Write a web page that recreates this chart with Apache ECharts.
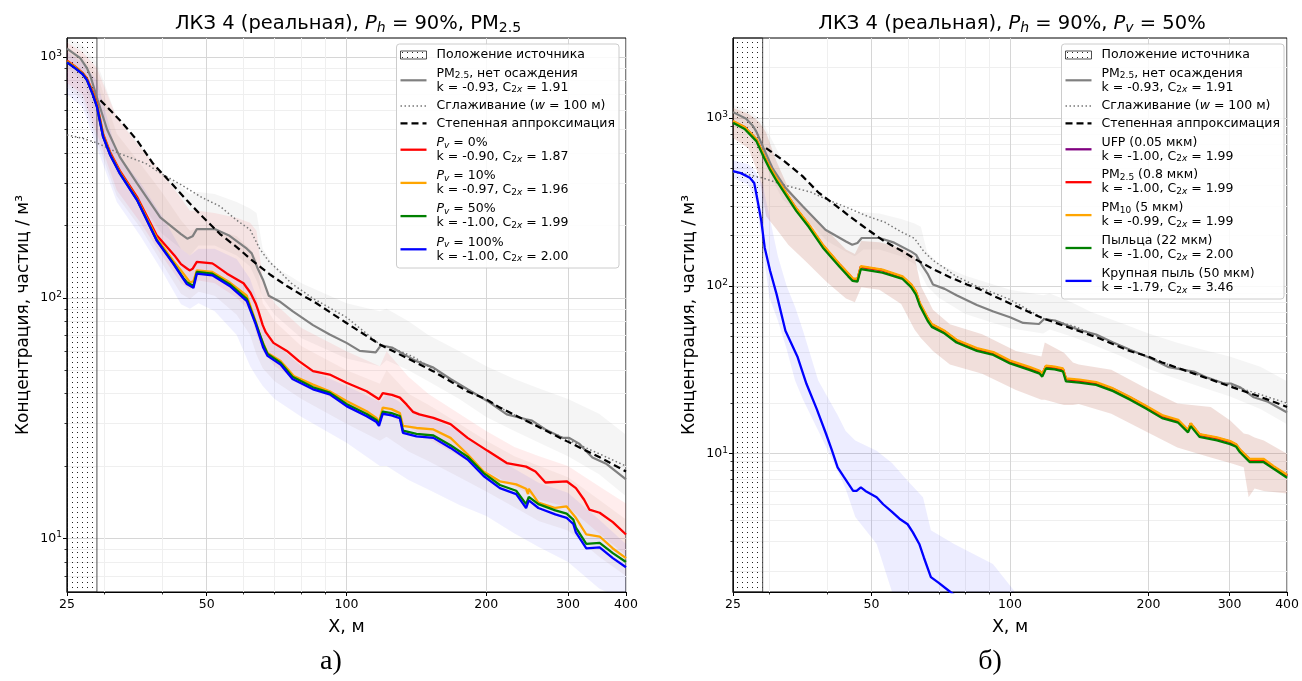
<!DOCTYPE html>
<html>
<head>
<meta charset="utf-8">
<script src="https://cdn.jsdelivr.net/npm/echarts@6/dist/echarts.min.js"></script>
<style>
html, body { margin: 0; padding: 0; background: #fff; }
#main { width: 1302px; height: 681px; }
</style>
</head>
<body>
<div id="main"></div>
<script>
// ---- оси ----
var X_TICKS = [25, 50, 100, 200, 300, 400];
var X_MINOR = [30, 40, 60, 70, 80, 90];
var Y_TICKS = [10, 100, 1000];
var Y_MINOR_A = [7, 8, 9, 20, 30, 40, 50, 60, 70, 80, 90, 200, 300, 400, 500, 600, 700, 800, 900];
var Y_MINOR_B = [2, 3, 4, 5, 6, 7, 8, 9, 20, 30, 40, 50, 60, 70, 80, 90, 200, 300, 400, 500, 600, 700, 800, 900, 2000];
var SOURCE_X = [25, 29];   // положение источника, м

// ---- общие для обеих панелей: PM2.5 без осаждения, сглаживание, аппроксимация ----
var GREY_NODEP = [[25,1085],[26.7,990],[27.6,900],[28.1,830],[29.1,665],[30.5,500],[32.5,384],[35.4,299],[39.7,216],[44,184],[45.4,176],[46.6,180],[47.6,193],[52,193],[56,181],[61,160],[62.5,153],[64.2,134],[66.2,118],[68,102],[72.1,96],[76.5,88],[84.7,77],[92,70.4],[100,65],[106.8,60.2],[115.6,59.3],[118.6,63.5],[125.3,62.2],[134.8,57.4],[141.5,54.6],[153.9,51.3],[167.5,46],[182.3,41.7],[201,37.3],[221.4,32.8],[243.7,31.3],[251,30.9],[268.2,28.4],[292,26.2],[301.8,26.2],[317,24.8],[338.6,21.7],[363.5,20.4],[400,17.6]];
var SMOOTH = [[25,475],[27,460],[29,440],[32.5,397],[37,361],[39.7,330],[44,295],[49,260],[53.4,240],[58,210],[62,192],[65,160],[68,142],[72,128],[76,115],[85,99],[100,83],[118,64],[125,62],[139,57],[154,50.5],[182,41.7],[214,35],[251,30],[298,25.9],[352,22.4],[400,20]];
var POWER_FIT = [[29.5,662],[32.5,547],[35.4,451],[38.3,361],[41.7,303],[45.3,254],[49.1,216],[53.4,184],[58.1,162],[62.9,142],[68.4,125],[74.4,112],[80.6,102],[84.7,97],[100,78.6],[118,64],[139,54.6],[153.6,49.6],[182,40.9],[200,37.9],[214,35],[252,29.9],[298,25.4],[352,21.7],[400,19]];
var GREY_BAND = [[25,900,1200],[27,800,1120],[29,560,950],[32,330,560],[36,250,430],[40,185,330],[44,160,290],[46,150,270],[48,165,275],[52,165,270],[58,150,250],[62,135,235],[64,118,225],[66,100,160],[70,85,135],[80,68,115],[100,56,95],[118,52,88],[122,55,90],[136,50,80],[150,45,70],[175,38,60],[200,32,52],[230,28,46],[260,25,42],[300,22,38],[350,18.5,33],[400,15,27]];

// ---- панель а): PM2.5, разные Pv ----
var A_PV0 = [[25,965],[26,915],[27,860],[27.6,815],[28.4,720],[29,640],[29.9,480],[31,400],[32.5,337],[35.4,262],[39,182],[42.6,150],[44,138],[45.4,132],[46,130],[46.6,132],[47.6,141],[51.4,139],[52,137],[55.3,126],[60,115],[62.1,105],[63.7,95],[64.6,88],[66,77],[67,72],[69.6,65],[74.4,60.2],[79,54.6],[84.7,49.6],[92,48],[100,44.4],[110.5,40.9],[117.5,37.9],[119.7,40.2],[125.3,39.5],[130.3,38.5],[134.8,36],[139,33.6],[143.5,32.8],[153.9,31.7],[167.5,29.9],[182.3,26.2],[201,23.2],[221.4,20.6],[243.7,19.9],[255.3,19],[268.2,17.1],[298,17.3],[312,16.2],[325,14.5],[333.5,13.2],[351,12.8],[374.7,11.7],[400,10.4]];
var A_PV10 = [[25,960],[26,910],[27,855],[27.6,808],[28.4,710],[29,630],[29.9,472],[31,394],[32.5,332],[35.4,257],[39,177],[42.4,142],[44,130],[45.4,120],[46,116],[46.8,117],[47.6,130],[51.4,128],[56,116],[61,102],[63.7,80],[65,70],[67.6,59],[72.1,54.6],[77,47.3],[84.7,43.6],[92,40.9],[100,37.3],[110.5,33.8],[116,31.7],[117.5,30.5],[119.7,35],[125,34.5],[130.3,33.2],[132.3,29.4],[141.5,28.8],[153.9,28.4],[167.5,26.2],[182.3,22.4],[197.4,19],[214,17.3],[232,16.8],[243.7,16.1],[246,15.3],[247,16.1],[259,14.1],[281.7,13.4],[298,13.6],[312,12.2],[328.5,10.4],[351,10.2],[374.7,9.1],[400,8.3]];
var A_PV50 = [[25,952],[26,902],[27,852],[27.6,804],[28.4,702],[29,624],[29.9,468],[31,391],[32.5,329],[35.4,255],[39,174],[42.4,139],[44.5,121],[45.3,116],[46.8,112],[47.6,128],[51.4,126],[56,114],[61,99],[63.7,79],[66.2,64],[67.6,58.5],[72.1,53.8],[76.5,47],[84.7,42.5],[92,40.4],[100,36.2],[110.5,32.9],[116,31.1],[117.5,30],[119.7,33.7],[125,33.2],[130.3,32.3],[132.3,28.1],[141.5,27.2],[153.9,26.8],[167.5,24.4],[182.3,21.9],[197.4,18.7],[214,16.7],[232,15.8],[243.7,13.9],[247,14.9],[259,13.9],[281.7,13.1],[298,12.7],[308,12],[312,11.1],[328.5,9.5],[351,9.6],[374.7,8.7],[400,8]];
var A_PV100 = [[25,950],[26,900],[27,850],[27.6,802],[28.4,700],[29,621],[29.9,466],[31,390],[32.5,328],[35.4,254],[39,173],[42.4,138],[44.5,120],[45.3,114],[46.8,110],[47.6,126],[51.4,124],[56,112],[61,97],[63.7,78],[66.2,62],[67.6,57.4],[72.1,52.8],[76.5,46],[84.7,41.7],[92,39.7],[100,35.5],[110.5,32.2],[116,30.5],[117.5,29.4],[119.7,33],[125,32.5],[130.3,31.6],[132.3,27.5],[141.5,26.6],[153.9,26.2],[167.5,23.8],[182.3,21.3],[197.4,18.2],[214,16.2],[232,15.3],[243.7,13.4],[247,14.4],[259,13.4],[281.7,12.6],[298,12.2],[308,11.5],[312,10.6],[328.5,9.1],[351,9.2],[374.7,8.3],[400,7.6]];
var A_PV0_BAND = [[25,780,1150],[27,700,1050],[29,480,900],[32,280,560],[36,205,420],[40,150,330],[44,115,260],[46,108,230],[48,118,230],[52,115,225],[58,100,215],[62,88,205],[64,70,190],[66,60,120],[70,52,95],[80,44,75],[100,36,60],[118,31,52],[122,33,60],[136,29,47],[150,26,40],[175,22,33],[200,19,28],[230,16.5,24],[260,14.5,22],[300,13.5,20],[350,10.5,16.5],[400,8.5,14]];
var A_PV10_BAND = [[25,750,1100],[27,660,1000],[29,450,850],[32,265,480],[36,195,360],[40,140,275],[44,104,210],[46,99,190],[48,106,195],[52,102,192],[58,85,180],[62,70,160],[64,58,145],[66,51,95],[70,45,80],[80,38,63],[100,30,50],[118,25.5,44],[122,26.5,50],[136,23,40],[150,21,36],[175,18,30],[200,15.7,25.5],[230,13.5,22],[260,11.8,20],[300,10.8,18],[350,8.4,14.5],[400,7,12]];
var A_PV100_BAND = [[25,700,1050],[27,620,950],[29,420,800],[32,250,400],[36,180,300],[40,130,220],[44,94,160],[46,90,150],[48,95,160],[52,88,160],[58,70,145],[62,52,120],[64,47,100],[66,43,75],[70,38,65],[80,32,52],[100,25,43],[118,20,37],[122,20,40],[136,17.5,35],[150,16,32],[175,13.8,28],[200,12.4,23],[230,10.5,19.5],[260,9.2,17],[300,8,15.5],[350,6.2,12],[400,5.5,9.5]];

// ---- панель б): Pv = 50%, разные размеры частиц ----
var B_PM25 = [[25,955],[26.5,880],[28.1,745],[29.2,595],[30,513],[31.1,433],[34.3,288],[36.5,231],[39.2,174],[42.6,134],[44.5,118],[45.5,110],[46.6,109],[47.4,130],[52.8,124],[58.4,113],[61,101],[62.4,92],[63.7,78],[66.2,64],[67.6,58.8],[72.1,53.5],[76.5,47.3],[84.7,42.2],[92,39.9],[100,35.5],[110.5,32.4],[116,30.9],[117.5,29.7],[119.7,33.2],[125,32.7],[130.3,31.9],[132.3,27.8],[141.5,27.3],[153.9,26.4],[167.5,24.3],[182.3,21.6],[197.4,19.1],[214,16.8],[232,15.7],[243.7,13.8],[247,15.1],[258,13],[281.7,12.4],[301,11.8],[310,11.3],[316,10.5],[332,9.2],[356,9.2],[374.7,8.3],[400,7.4]];
var B_UFP = B_PM25;   // линия UFP целиком закрыта линией PM2.5
var B_PM10 = [[25,960],[26.5,885],[28.1,750],[29.2,600],[30,517],[31.1,437],[34.3,290],[36.5,233],[39.2,176],[42.6,135],[44.5,119],[45.5,111],[46.6,110],[47.4,131],[52.8,125],[58.4,114],[61,102],[62.4,93],[63.7,79],[66.2,64.5],[67.6,59.3],[72.1,54],[76.5,47.8],[84.7,42.6],[92,40.3],[100,35.9],[110.5,32.8],[116,31.2],[117.5,30],[119.7,33.5],[125,33],[130.3,32.2],[132.3,28.1],[141.5,27.6],[153.9,26.7],[167.5,24.5],[182.3,21.8],[197.4,19.3],[214,17],[232,15.9],[243.7,13.9],[247,15.2],[258,13.1],[281.7,12.5],[301,11.9],[310,11.4],[316,10.6],[332,9.3],[356,9.3],[374.7,8.4],[400,7.5]];
var B_POLLEN = [[25,937],[26.5,860],[28.1,729],[29.2,581],[30,500],[31.1,422],[34.3,280],[36.5,225],[39.2,169],[42.6,130],[44.5,114],[45.5,107],[46.6,106],[47.4,126],[52.8,120],[58.4,110],[61,98],[62.4,89],[63.7,76],[66.2,62],[67.6,57],[72.1,52],[76.5,46],[84.7,41],[92,38.8],[100,34.5],[110.5,31.5],[116,30],[117.5,28.8],[119.7,32.2],[125,31.8],[130.3,31],[132.3,27],[141.5,26.5],[153.9,25.7],[167.5,23.6],[182.3,21],[197.4,18.6],[214,16.3],[232,15.3],[243.7,13.4],[247,14.6],[258,12.6],[281.7,12],[301,11.4],[310,11],[316,10.2],[332,8.9],[356,8.9],[374.7,8.1],[400,7.2]];
var B_DUST = [[25,483],[26,470],[27.2,441],[27.8,410],[28.2,335],[28.8,244],[29.3,169],[30.1,123],[31.1,89],[32.5,54],[34.5,38],[36.1,26.1],[38,18.5],[39.8,13.2],[41,10.5],[42.2,8.3],[43.5,7.3],[45.6,6],[46.4,6],[47.4,6.3],[48.5,6],[51.3,5.5],[53,5],[55.4,4.5],[57.5,4.1],[59.9,3.8],[61.5,3.4],[63.5,2.9],[65,2.4],[67.3,1.84],[70,1.7],[74.2,1.5],[78,1.35]];
var B_PARTICLE_BAND = [[25,760,1150],[27,660,1060],[28.5,450,950],[29.5,260,820],[31,220,560],[33,175,380],[36,140,280],[40,105,215],[44,84,165],[46,80,155],[47.5,98,185],[52,95,182],[58,78,168],[62,55,150],[64,49,100],[68,41,72],[74,34,59],[87,30,51.5],[103,24,41],[117,21,38],[119,21,46],[131,19.5,40],[137,19.5,35],[141,19.8,34],[166,17.3,31.6],[196,13.7,24.8],[231,10.9,19.9],[273,9.5,19],[301,8.8,15.8],[322,8.3,13.2],[330,5.5,13],[340,6.2,12.5],[356,6,12],[400,5.8,10]];
var B_DUST_BAND = [[25,440,560],[27,400,530],[28,320,480],[29,170,400],[30,85,260],[31.3,62,150],[32.7,42,100],[34.1,27.3,75],[35.5,21,54],[38.3,13.7,27.3],[42.2,7.9,17],[43.9,6.2,13.7],[46.1,4.2,12],[51.3,2.9,10.4],[55.4,1.5,8.8],[59.9,1.2,6.9],[64.7,1.2,5.5],[67.3,1.2,3.5],[75.6,1.2,2.9],[91.8,1.2,2.2],[102,1.2,1.53]];

// ---- подписи ----
var TITLES = [
  'ЛКЗ 4 (реальная), {i|P}{si|h} = 90%, PM{s|2.5}',
  'ЛКЗ 4 (реальная), {i|P}{si|h} = 90%, {i|P}{si|v} = 50%'
];
var COMMON_LEG = [
  'Положение источника',
  'PM{s|2.5}, нет осаждения\nk = -0.93, C{s|2}{si|x} = 1.91',
  'Сглаживание ({i|w} = 100 м)',
  'Степенная аппроксимация'
];
var LEG_A = [
  '{i|P}{si|v} = 0%\nk = -0.90, C{s|2}{si|x} = 1.87',
  '{i|P}{si|v} = 10%\nk = -0.97, C{s|2}{si|x} = 1.96',
  '{i|P}{si|v} = 50%\nk = -1.00, C{s|2}{si|x} = 1.99',
  '{i|P}{si|v} = 100%\nk = -1.00, C{s|2}{si|x} = 2.00'
];
var LEG_B = [
  'UFP (0.05 мкм)\nk = -1.00, C{s|2}{si|x} = 1.99',
  'PM{s|2.5} (0.8 мкм)\nk = -1.00, C{s|2}{si|x} = 1.99',
  'PM{s|10} (5 мкм)\nk = -0.99, C{s|2}{si|x} = 1.99',
  'Пыльца (22 мкм)\nk = -1.00, C{s|2}{si|x} = 2.00',
  'Крупная пыль (50 мкм)\nk = -1.79, C{s|2}{si|x} = 3.46'
];

var F = 'DejaVu Sans';
var ST = {
  grey:   { color: '#808080', width: 2.2, dash: 'solid' },
  dotted: { color: '#777777', width: 1.5, dash: [1.5, 2.5] },
  dashed: { color: '#000000', width: 2.2, dash: [7, 4] },
  purple: { color: '#800080', width: 2.3 },
  red:    { color: '#ff0000', width: 2.3 },
  orange: { color: '#ffa500', width: 2.3 },
  green:  { color: '#008000', width: 2.3 },
  blue:   { color: '#0000ff', width: 2.3 }
};

// точечная штриховка области источника
var hatchCanvas = document.createElement('canvas');
hatchCanvas.width = 5; hatchCanvas.height = 5;
(function () {
  var c = hatchCanvas.getContext('2d');
  c.fillStyle = '#222';
  c.fillRect(2, 2, 1, 1);
})();
var HATCH = { image: hatchCanvas, repeat: 'repeat' };

var chart = echarts.init(document.getElementById('main'), null, { renderer: 'canvas' });

function line(name, data, ax, st, extra) {
  var s = {
    type: 'line', name: name, data: data, xAxisIndex: ax, yAxisIndex: ax,
    showSymbol: false, symbol: 'none', silent: true, clip: true, z: 3,
    lineStyle: { color: st.color, width: st.width, type: st.dash || 'solid' },
    itemStyle: { color: st.color }
  };
  if (extra) for (var k in extra) s[k] = extra[k];
  return s;
}

// полоса разброса: один многоугольник по верхней и нижней границе
function band(rows, ax, fill) {
  return {
    type: 'custom', xAxisIndex: ax, yAxisIndex: ax, silent: true, z: 1,
    data: rows, encode: { x: 0, y: [1, 2] },
    renderItem: function (params, api) {
      if (params.dataIndex !== 0) return null;
      var pts = [];
      for (var i = 0; i < rows.length; i++) pts.push(api.coord([rows[i][0], rows[i][2]]));
      for (var j = rows.length - 1; j >= 0; j--) pts.push(api.coord([rows[j][0], rows[j][1]]));
      var cs = params.coordSys;
      return {
        type: 'polygon', shape: { points: pts }, style: { fill: fill },
        clipPath: { type: 'rect', shape: { x: cs.x, y: cs.y, width: cs.width, height: cs.height } }
      };
    }
  };
}

var sourceArea = {
  silent: true,
  itemStyle: { color: HATCH, borderColor: '#222', borderWidth: 0.8 },
  label: { show: false },
  data: [[{ xAxis: SOURCE_X[0] }, { xAxis: SOURCE_X[1] }]]
};

function xAxes(gi) {
  return [{
    type: 'log', logBase: 10, gridIndex: gi, position: 'bottom', min: 25, max: 400,
    name: 'X, м', nameLocation: 'middle', nameGap: 26,
    nameTextStyle: { fontFamily: F, fontSize: 17.5, color: '#000' },
    axisLine: { show: true, onZero: false, lineStyle: { color: '#000', width: 1 } },
    axisTick: { show: true, customValues: X_TICKS, length: 4, lineStyle: { color: '#000' } },
    axisLabel: { customValues: X_TICKS, formatter: function (v) { return String(Math.round(v)); },
      fontFamily: F, fontSize: 12.5, color: '#000', margin: 6 },
    splitLine: { show: true, lineStyle: { color: '#d6d6d6', width: 1 } }
  }, {
    type: 'log', logBase: 10, gridIndex: gi, position: 'bottom', min: 25, max: 400,
    axisLine: { show: false },
    axisTick: { show: true, customValues: X_MINOR, length: 2.5, lineStyle: { color: '#000', width: 0.8 } },
    axisLabel: { show: false, customValues: X_MINOR },
    splitLine: { show: true, lineStyle: { color: '#efefef', width: 1 } }
  }];
}

function yAxes(gi, ymin, ymax, minor) {
  return [{
    type: 'log', logBase: 10, gridIndex: gi, position: 'left', min: ymin, max: ymax,
    name: 'Концентрация, частиц / м³', nameLocation: 'middle', nameGap: 35,
    nameTextStyle: { fontFamily: F, fontSize: 17, color: '#000' },
    axisLine: { show: true, onZero: false, lineStyle: { color: '#000', width: 1 } },
    axisTick: { show: true, customValues: Y_TICKS, length: 4, lineStyle: { color: '#000' } },
    axisLabel: {
      customValues: Y_TICKS, margin: 5,
      formatter: function (v) { return '{b|10}{sup|' + Math.round(Math.log10(v)) + '}'; },
      rich: {
        b: { fontFamily: F, fontSize: 12.5, color: '#000', lineHeight: 16 },
        sup: { fontFamily: F, fontSize: 9, color: '#000', lineHeight: 9, verticalAlign: 'top' }
      }
    },
    splitLine: { show: true, lineStyle: { color: '#d6d6d6', width: 1 } }
  }, {
    type: 'log', logBase: 10, gridIndex: gi, position: 'left', min: ymin, max: ymax,
    axisLine: { show: false },
    axisTick: { show: true, customValues: minor, length: 2.5, lineStyle: { color: '#000', width: 0.8 } },
    axisLabel: { show: false, customValues: minor },
    splitLine: { show: true, lineStyle: { color: '#efefef', width: 1 } }
  }];
}

var RICH = {
  i: { fontFamily: F, fontSize: 12.5, fontStyle: 'italic', fill: '#000', lineHeight: 14 },
  s: { fontFamily: F, fontSize: 9, fill: '#000', lineHeight: 9, verticalAlign: 'bottom' },
  si: { fontFamily: F, fontSize: 9, fontStyle: 'italic', fill: '#000', lineHeight: 9, verticalAlign: 'bottom' }
};
var TRICH = {
  i: { fontFamily: F, fontSize: 19.5, fontStyle: 'italic', fill: '#000', lineHeight: 23 },
  s: { fontFamily: F, fontSize: 14, fill: '#000', lineHeight: 14, verticalAlign: 'bottom' },
  si: { fontFamily: F, fontSize: 14, fontStyle: 'italic', fill: '#000', lineHeight: 14, verticalAlign: 'bottom' }
};

function legendBlock(x0, y0, w, h, items) {
  var els = [{
    type: 'rect', z: 100, shape: { x: x0, y: y0, width: w, height: h, r: 3 },
    style: { fill: 'rgba(255,255,255,0.85)', stroke: '#cccccc', lineWidth: 1 }
  }];
  items.forEach(function (it) {
    var ix = x0 + 4, iw = 26;
    if (it.icon === 'hatch') {
      els.push({ type: 'rect', z: 101, shape: { x: ix, y: it.y - 4, width: iw, height: 8 },
        style: { fill: HATCH, stroke: '#222', lineWidth: 0.8 } });
    } else {
      els.push({ type: 'line', z: 101, shape: { x1: ix, y1: it.y, x2: ix + iw, y2: it.y },
        style: { stroke: it.icon.color, lineWidth: it.icon.width,
          lineDash: Array.isArray(it.icon.dash) ? it.icon.dash : null } });
    }
    els.push({ type: 'text', z: 101, x: x0 + 40, y: it.y,
      style: { text: it.text, fontFamily: F, fontSize: 12.5, fill: '#000', lineHeight: 14,
        verticalAlign: 'middle', align: 'left', rich: RICH } });
  });
  return els;
}

var commonIcons = ['hatch', ST.grey, ST.dotted, ST.dashed];
var commonY = [55, 80.3, 106, 123.3];
var legA = [], legB = [];
COMMON_LEG.forEach(function (t, i) { legA.push({ icon: commonIcons[i], y: commonY[i], text: t }); });
COMMON_LEG.forEach(function (t, i) { legB.push({ icon: commonIcons[i], y: commonY[i], text: t }); });
[ST.red, ST.orange, ST.green, ST.blue].forEach(function (st, i) {
  legA.push({ icon: st, y: 149.7 + i * 33.2, text: LEG_A[i] });
});
[ST.purple, ST.red, ST.orange, ST.green, ST.blue].forEach(function (st, i) {
  legB.push({ icon: st, y: 149.3 + i * 32.9, text: LEG_B[i] });
});

var graphics = [
  { type: 'text', x: 348, y: 24, z: 50, style: { text: TITLES[0], fontFamily: F, fontSize: 19.5, fill: '#000',
      lineHeight: 23, align: 'center', verticalAlign: 'middle', rich: TRICH } },
  { type: 'text', x: 1012, y: 24, z: 50, style: { text: TITLES[1], fontFamily: F, fontSize: 19.5, fill: '#000',
      lineHeight: 23, align: 'center', verticalAlign: 'middle', rich: TRICH } },
  { type: 'text', x: 331, y: 662, style: { text: 'а)', fontFamily: 'Liberation Serif', fontSize: 28, fill: '#000',
      align: 'center', verticalAlign: 'middle' } },
  { type: 'text', x: 990, y: 662, style: { text: 'б)', fontFamily: 'Liberation Serif', fontSize: 28, fill: '#000',
      align: 'center', verticalAlign: 'middle' } }
].concat(legendBlock(396.5, 44, 222.5, 224, legA)).concat(legendBlock(1061.5, 44, 222.5, 255, legB));

var option = {
  animation: false,
  backgroundColor: '#fff',
  grid: [
    { left: 67, top: 38, width: 559, height: 554, show: true, borderColor: '#000', borderWidth: 1, backgroundColor: 'transparent' },
    { left: 733, top: 38, width: 557, height: 554, show: true, borderColor: '#000', borderWidth: 1, backgroundColor: 'transparent' }
  ],
  xAxis: xAxes(0).concat(xAxes(1)),
  yAxis: yAxes(0, 6, 1200, Y_MINOR_A).concat(yAxes(1, 1.5, 3000, Y_MINOR_B)),
  series: [
    // а)
    band(GREY_BAND, 0, 'rgba(128,128,128,0.08)'),
    band(A_PV0_BAND, 0, 'rgba(255,0,0,0.07)'),
    band(A_PV10_BAND, 0, 'rgba(160,110,90,0.08)'),
    band(A_PV100_BAND, 0, 'rgba(0,0,255,0.06)'),
    line('PM2.5, нет осаждения', GREY_NODEP, 0, ST.grey, { markArea: sourceArea }),
    line('Сглаживание', SMOOTH, 0, ST.dotted),
    line('Степенная аппроксимация', POWER_FIT, 0, ST.dashed),
    line('Pv = 0%', A_PV0, 0, ST.red),
    line('Pv = 10%', A_PV10, 0, ST.orange),
    line('Pv = 50%', A_PV50, 0, ST.green),
    line('Pv = 100%', A_PV100, 0, ST.blue),
    // б)
    band(GREY_BAND, 2, 'rgba(128,128,128,0.08)'),
    band(B_PARTICLE_BAND, 2, 'rgba(190,110,90,0.22)'),
    band(B_DUST_BAND, 2, 'rgba(0,0,255,0.07)'),
    line('PM2.5, нет осаждения ', GREY_NODEP, 2, ST.grey, { markArea: sourceArea }),
    line('Сглаживание ', SMOOTH, 2, ST.dotted),
    line('Степенная аппроксимация ', POWER_FIT, 2, ST.dashed),
    line('UFP', B_UFP, 2, ST.purple),
    line('PM2.5 (0.8 мкм)', B_PM25, 2, ST.red),
    line('PM10 (5 мкм)', B_PM10, 2, ST.orange),
    line('Пыльца', B_POLLEN, 2, ST.green),
    line('Крупная пыль', B_DUST, 2, ST.blue)
  ],
  graphic: graphics
};

chart.setOption(option);
</script>
</body>
</html>
